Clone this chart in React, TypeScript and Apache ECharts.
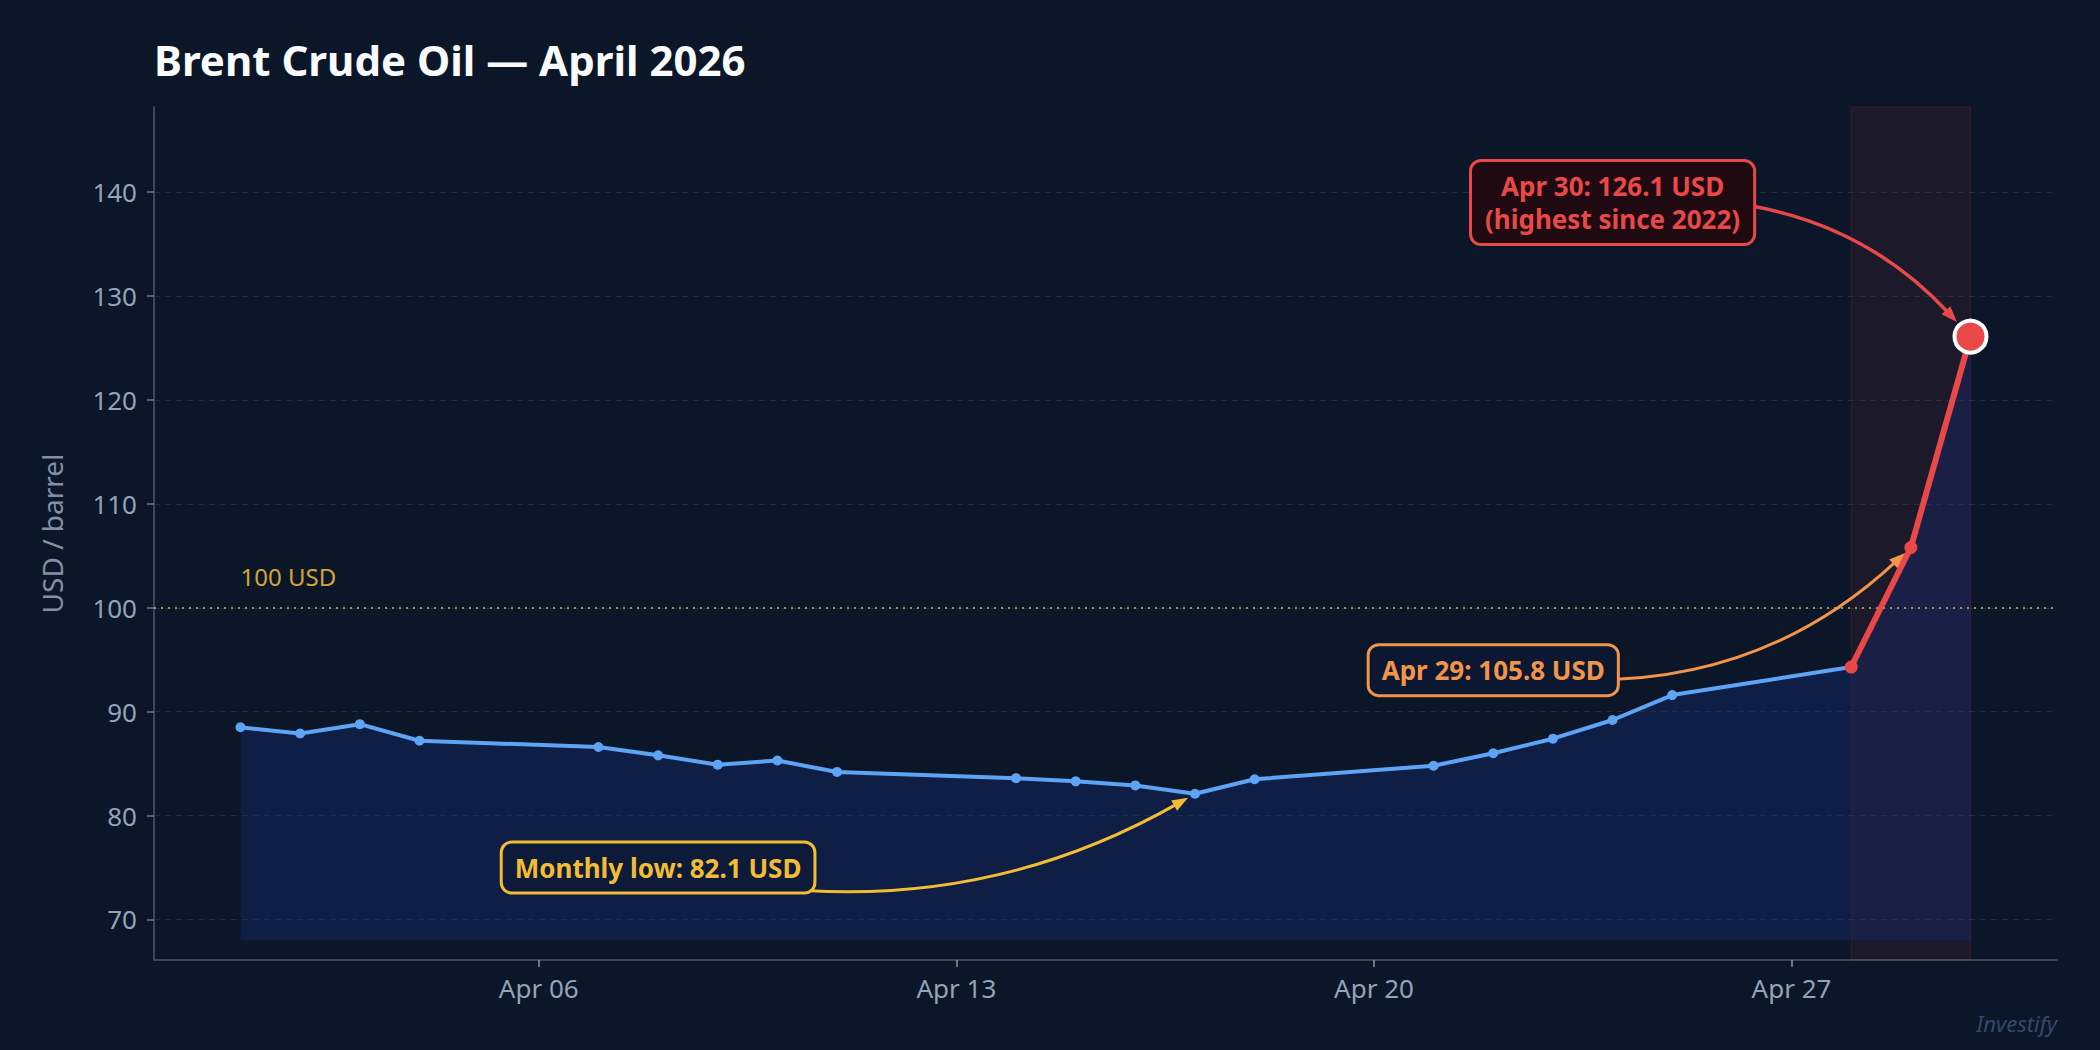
import React, { useEffect, useRef } from "react";
import * as echarts from "echarts";

// ---- data (day of April 2026, Brent price USD/barrel) ----
const DAYS = [1, 2, 3, 4, 7, 8, 9, 10, 11, 14, 15, 16, 17, 18, 21, 22, 23, 24, 25, 28, 29, 30];
const PRICES = [88.5, 87.9, 88.8, 87.2, 86.6, 85.8, 84.9, 85.3, 84.2, 83.6, 83.3, 82.9, 82.1, 83.5, 84.8, 86.0, 87.4, 89.2, 91.6, 94.3, 105.8, 126.1];
const SPIKE_START_DAY = 28;
const X_TICK_DAYS = [6, 13, 20, 27];
const Y_TICKS = [70, 80, 90, 100, 110, 120, 130, 140];
const Y_MIN = 66.1;
const Y_MAX = 148.2;
const FILL_BASE = 68;
const THRESHOLD = 100;
const THRESHOLD_LABEL = "100 USD";
const X_PAD_DAYS = 1.45;

const ANNOT_TEXTS = ["Monthly low: 82.1 USD", "Apr 29: 105.8 USD", "Apr 30: 126.1 USD\n(highest since 2022)"];
const ANNOT_TARGET_DAYS = [17, 29, 30];
const ANNOT_TEXT_DAYS = [8, 22, 24];
const ANNOT_TEXT_VALUES = [75, 94, 139];
const ANNOT_COLORS = ["#f2bd35", "#f2954a", "#e94848"];
const ANNOT_BGS = ["#0d1a3a", "#0c1832", "#1e0a10"];
const ANNOT_RADS = [0.2, 0.25, -0.25];
const ANNOT_SHRINK = [8, 8, 20];

const BG = "#0b1628";
const BLUE = "#5ea4f5";
const RED = "#e94848";
const FONT = '"Noto Sans", "Open Sans", sans-serif';

const pad2 = (n: number) => (n < 10 ? "0" + n : "" + n);

export default function App() {
  const ref = useRef<HTMLDivElement>(null);

  useEffect(() => {
    document.body.style.margin = "0";
    document.body.style.background = BG;
    const chart = echarts.init(ref.current!, null, { renderer: "svg" });

    const all = DAYS.map((d, i) => [d, PRICES[i]]);
    const blue = all.filter((p) => p[0] <= SPIKE_START_DAY);
    const red = all
      .filter((p) => p[0] >= SPIKE_START_DAY)
      .map((p, i, arr) =>
        i === arr.length - 1
          ? {
              value: p,
              symbolSize: 32,
              itemStyle: { color: RED, borderColor: "#ffffff", borderWidth: 4 },
            }
          : { value: p }
      );

    const option: any = {
      animation: false,
      backgroundColor: BG,
      textStyle: { fontFamily: FONT },
      title: {
        text: "Brent Crude Oil — April 2026",
        left: 149,
        top: 33,
        textStyle: { color: "#f8fafc", fontSize: 42, fontWeight: "bold", fontFamily: FONT },
      },
      grid: { left: 154, right: 43, top: 107, bottom: 90, containLabel: false },
      xAxis: {
        type: "value",
        min: DAYS[0] - X_PAD_DAYS,
        max: DAYS[DAYS.length - 1] + X_PAD_DAYS,
        axisLine: { show: true, onZero: false, lineStyle: { color: "#3a4658", width: 2 } },
        axisTick: { show: true, customValues: X_TICK_DAYS, length: 7, lineStyle: { color: "#8a96aa", width: 1.5 } },
        axisLabel: {
          customValues: X_TICK_DAYS,
          formatter: (v: number) => "Apr " + pad2(Math.round(v)),
          color: "#94a3b8",
          fontSize: 26,
          margin: 15,
          fontFamily: FONT,
        },
        splitLine: { show: false },
      },
      yAxis: {
        type: "value",
        min: Y_MIN,
        max: Y_MAX,
        name: "USD / barrel",
        nameLocation: "middle",
        nameGap: 88,
        nameTextStyle: { color: "#8290a6", fontSize: 28, fontFamily: FONT },
        axisLine: { show: true, onZero: false, lineStyle: { color: "#3a4658", width: 2 } },
        axisTick: { show: true, customValues: Y_TICKS, length: 7, lineStyle: { color: "#6b778b", width: 1.5 } },
        axisLabel: { customValues: Y_TICKS, color: "#94a3b8", fontSize: 26, margin: 17, fontFamily: FONT },
        splitLine: { show: true, lineStyle: { color: "#1f2b3f", type: [6, 5], width: 1 } },
      },
      series: [
        {
          type: "line",
          data: all,
          symbol: "none",
          lineStyle: { width: 0 },
          areaStyle: { color: "rgba(24,56,150,0.36)", origin: FILL_BASE },
          z: 1,
          silent: true,
          markArea: {
            silent: true,
            itemStyle: { color: "rgba(239,68,68,0.07)", borderColor: "rgba(239,68,68,0.16)", borderWidth: 1 },
            data: [[{ xAxis: SPIKE_START_DAY }, { xAxis: DAYS[DAYS.length - 1] }]],
          },
          markLine: {
            silent: true,
            symbol: "none",
            label: { show: false },
            lineStyle: { color: "#9a9350", type: [2, 5], width: 2 },
            data: [{ yAxis: THRESHOLD }],
          },
        },
        {
          type: "line",
          data: blue,
          symbol: "circle",
          symbolSize: 10,
          showSymbol: true,
          lineStyle: { color: BLUE, width: 4 },
          itemStyle: { color: BLUE },
          z: 3,
        },
        {
          type: "line",
          data: red,
          symbol: "circle",
          symbolSize: 13,
          lineStyle: { color: RED, width: 6 },
          itemStyle: { color: RED },
          z: 4,
        },
      ],
    };
    chart.setOption(option);

    const px = (d: number, v: number) => chart.convertToPixel({ gridIndex: 0 }, [d, v]) as number[];
    const priceOf = (d: number) => PRICES[DAYS.indexOf(d)];
    const graphics: any[] = [];

    ANNOT_TEXTS.forEach((txt, i) => {
      const [sx, sy] = px(ANNOT_TEXT_DAYS[i], ANNOT_TEXT_VALUES[i]);
      const [ex, ey] = px(ANNOT_TARGET_DAYS[i], priceOf(ANNOT_TARGET_DAYS[i]));
      const rad = ANNOT_RADS[i];
      const mx = (sx + ex) / 2;
      const my = (sy + ey) / 2;
      const dx = ex - sx;
      const dyUp = -(ey - sy);
      const cx = mx + rad * dyUp;
      const cy = my + rad * dx;
      let ux = ex - cx;
      let uy = ey - cy;
      const len = Math.hypot(ux, uy);
      ux /= len;
      uy /= len;
      const tipX = ex - ux * ANNOT_SHRINK[i];
      const tipY = ey - uy * ANNOT_SHRINK[i];
      const L = 16;
      const W = 12;
      const bx = tipX - ux * L;
      const by = tipY - uy * L;
      const col = ANNOT_COLORS[i];
      graphics.push({
        type: "bezierCurve",
        z: 20,
        silent: true,
        shape: { x1: sx, y1: sy, x2: bx + ux * 3, y2: by + uy * 3, cpx1: cx, cpy1: cy },
        style: { stroke: col, lineWidth: i === 2 ? 3.5 : 3, fill: null },
      });
      graphics.push({
        type: "polygon",
        z: 21,
        silent: true,
        shape: {
          points: [
            [tipX, tipY],
            [bx - uy * (W / 2), by + ux * (W / 2)],
            [bx + uy * (W / 2), by - ux * (W / 2)],
          ],
        },
        style: { fill: col },
      });
      graphics.push({
        type: "text",
        z: 22,
        silent: true,
        x: sx,
        y: sy,
        style: {
          text: txt,
          fill: col,
          fontSize: 26,
          fontWeight: "bold",
          fontFamily: FONT,
          align: "center",
          verticalAlign: "middle",
          lineHeight: 33,
          backgroundColor: ANNOT_BGS[i],
          borderColor: col,
          borderWidth: 3,
          borderRadius: 9,
          padding: i === 2 ? [8, 13, 7, 13] : [8, 12, 7, 12],
        },
      });
    });

    const [lx, ly] = px(DAYS[0], THRESHOLD);
    graphics.push({
      type: "text",
      z: 15,
      silent: true,
      x: lx,
      y: ly - 31,
      style: { text: THRESHOLD_LABEL, fill: "#d2a636", fontSize: 24, fontFamily: FONT, align: "left", verticalAlign: "middle" },
    });
    graphics.push({
      type: "text",
      z: 15,
      silent: true,
      x: 2057,
      y: 1023,
      style: {
        text: "Investify",
        fill: "#35486b",
        fontSize: 22,
        fontStyle: "italic",
        fontFamily: FONT,
        align: "right",
        verticalAlign: "middle",
      },
    });

    chart.setOption({ graphic: graphics });
    return () => chart.dispose();
  }, []);

  return <div ref={ref} style={{ position: "fixed", left: 0, top: 0, width: 2100, height: 1050 }} />;
}
